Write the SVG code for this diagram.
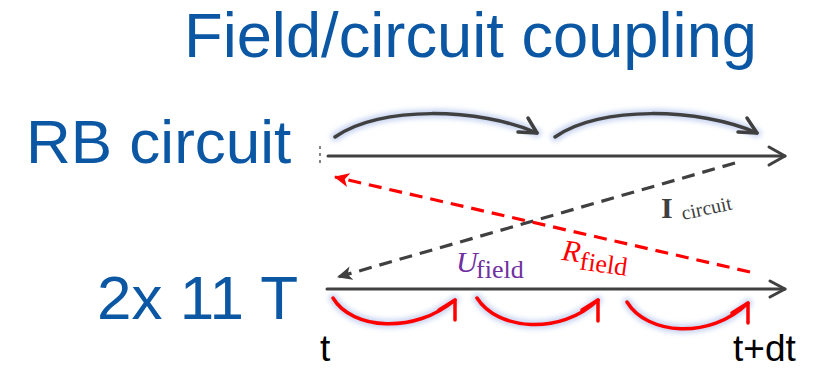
<svg xmlns="http://www.w3.org/2000/svg" width="833" height="369" viewBox="0 0 833 369">
<style>
.blue{fill:#0b57a4;font-family:"Liberation Sans",Arial,sans-serif}
.blk{fill:#000;font-family:"Liberation Sans",Arial,sans-serif;font-size:37px}
.axis{stroke:#404040;stroke-width:3;fill:none;stroke-linecap:round;stroke-linejoin:round}
.garc{stroke:#404040;stroke-width:3.5;fill:none;stroke-linecap:round;stroke-linejoin:round}
.rarc{stroke:#ff0000;stroke-width:3.5;fill:none;stroke-linecap:round;stroke-linejoin:round}
.glow{stroke:#c9d5f2;stroke-width:9;fill:none;stroke-linecap:round;filter:url(#blur)}
.serif{font-family:"Liberation Serif","DejaVu Serif",serif}
</style>
<defs>
<filter id="blur" x="-20%" y="-50%" width="140%" height="200%"><feGaussianBlur stdDeviation="2.5"/></filter>
<marker id="ag" markerUnits="userSpaceOnUse" markerWidth="16" markerHeight="14" refX="14" refY="7" orient="auto"><path d="M0,0 L15,7 L0,14 L4,7 Z" fill="#404040"/></marker>
<marker id="ar" markerUnits="userSpaceOnUse" markerWidth="16" markerHeight="14" refX="14" refY="7" orient="auto"><path d="M0,0 L15,7 L0,14 L4,7 Z" fill="#ff0000"/></marker>
</defs>
<rect width="833" height="369" fill="#fff"/>
<text class="blue" x="184" y="57" font-size="63" textLength="573" lengthAdjust="spacingAndGlyphs">Field/circuit coupling</text>
<g id="rb-label"><text class="blue" x="26" y="163" font-size="62">RB circuit</text></g>
<g id="magnet-label"><text class="blue" x="97" y="319" font-size="62">2x 11 T</text></g>
<g id="t-label"><text class="blk" x="320" y="361">t</text></g>
<g id="tdt-label"><text class="blk" x="733" y="361">t+dt</text></g>
<g id="rb-timeline">
<line x1="320" y1="146" x2="320" y2="166" stroke="#333" stroke-width="1.2" stroke-dasharray="3,4"/>
<line class="axis" x1="328" y1="156" x2="785" y2="156"/>
<polyline class="axis" points="769,147 785,156 769,165"/>
</g>
<g id="magnet-timeline">
<line class="axis" x1="327" y1="289" x2="785" y2="289"/>
<polyline class="axis" points="770,281 785,289 770,297"/>
</g>
<g id="connectors">
<g id="circuit-steps">
<path class="glow" d="M335,137 C380,105 480,108 537,133"/>
<path class="glow" d="M555,137 C600,105 700,108 757,133"/>
<path class="garc" d="M335,137 C380,105 480,108 537,133"/>
<polyline class="garc" points="518,132 537,133 528,118"/>
<path class="garc" d="M555,137 C600,105 700,108 757,133"/>
<polyline class="garc" points="738,132 757,133 747,118"/>
</g>
<g id="field-steps">
<path class="glow" d="M333,298 C352,330 415,334 455,300"/>
<path class="glow" d="M477,298 C497,330 560,336 598,300"/>
<path class="glow" d="M627,302 C647,335 710,340 748,303"/>
<path class="rarc" d="M333,298 C352,330 415,334 455,300"/>
<polyline class="rarc" points="439,310 455,300 455,320"/>
<path class="rarc" d="M477,298 C497,330 560,336 598,300"/>
<polyline class="rarc" points="582,310 598,300 598,321"/>
<path class="rarc" d="M627,302 C647,335 710,340 748,303"/>
<polyline class="rarc" points="732,313 748,303 748,323"/>
</g>
<line x1="735" y1="163" x2="338" y2="277" stroke="#404040" stroke-width="3.2" stroke-dasharray="13,8" marker-end="url(#ag)"/>
<line x1="750" y1="272" x2="335" y2="177" stroke="#ff0000" stroke-width="3.2" stroke-dasharray="13,8" marker-end="url(#ar)"/>
</g>
<g id="i-circuit">
<text class="serif" x="661" y="218" font-size="30" fill="#404040" font-weight="bold">I</text>
<text class="serif" x="683" y="220" font-size="20" fill="#404040" transform="rotate(-12 683 220)">circuit</text>
</g>
<g id="u-field">
<text class="serif" x="456" y="272" font-size="30" font-style="italic" fill="#7030a0">U</text>
<text class="serif" x="476" y="278" font-size="26" fill="#7030a0">field</text>
</g>
<g id="r-field" transform="rotate(8 563 260)">
<text class="serif" x="561" y="260" font-size="30" font-style="italic" fill="#ff0000">R</text>
<text class="serif" x="580" y="267" font-size="26" fill="#ff0000">field</text>
</g>
</svg>
